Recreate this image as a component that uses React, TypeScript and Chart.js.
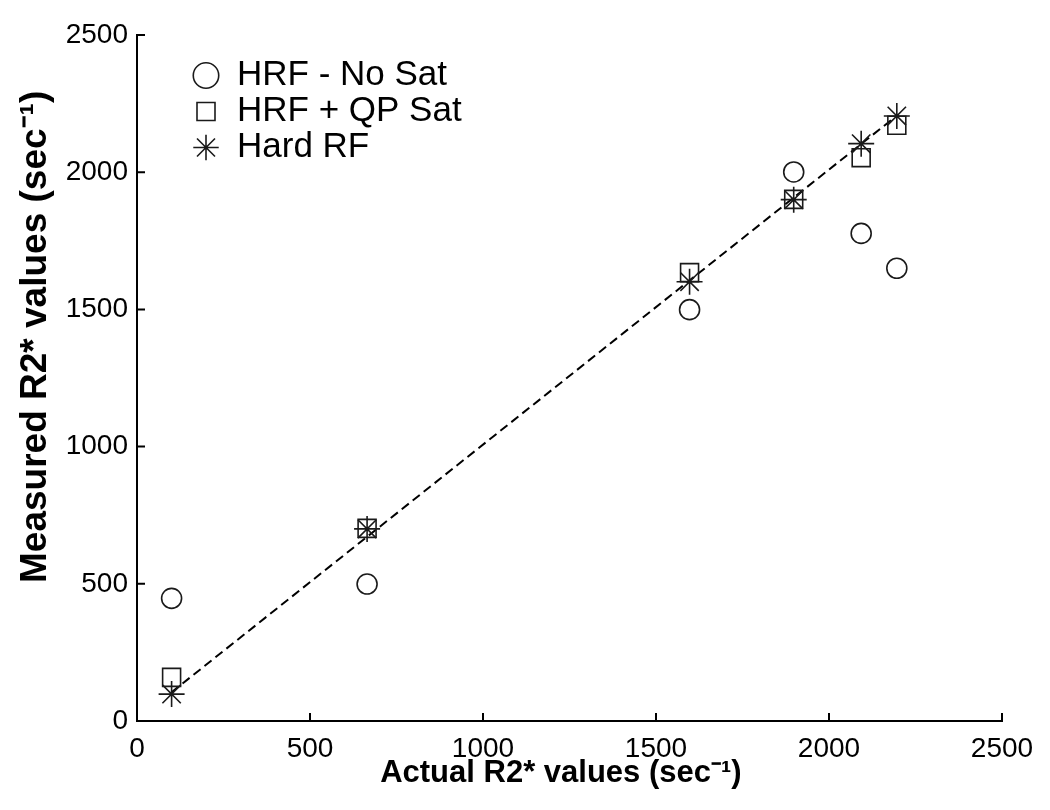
import React, { useEffect, useRef } from "react";
import { Chart, registerables } from "chart.js";

Chart.register(...registerables);

// Data
const actualR2 = [100, 665, 1597, 1898, 2093, 2196];
const hrfNoSat = [447, 499, 1499, 2001, 1777, 1650];
const hrfQpSat = [159, 702, 1634, 1901, 2053, 2171];
const hardRf = [98, 700, 1601, 1900, 2104, 2205];
const fitX = [100, 2200];
const fitY = [105, 2210];
const axisTicks = [0, 500, 1000, 1500, 2000, 2500];

const seriesNames = ["HRF - No Sat", "HRF + QP Sat", "Hard RF"];
const xTitle = "Actual R2* values (sec\u207B\u00B9)\u00A0\u00A0";
const yTitle = "\u00A0".repeat(8) + "Measured R2* values (sec\u207B\u00B9)";

const FONT = "'Liberation Sans', Arial, Helvetica, sans-serif";

const toPoints = (xs: number[], ys: number[]) => xs.map((x, i) => ({ x, y: ys[i] }));

const inwardTicks = {
  id: "inwardTicks",
  afterDraw(chart: any) {
    const ctx = chart.ctx;
    const xs = chart.scales.x;
    const ys = chart.scales.y;
    const len = 8;
    ctx.save();
    ctx.strokeStyle = "#000";
    ctx.lineWidth = 2;
    ctx.beginPath();
    axisTicks.forEach((v) => {
      const px = xs.getPixelForValue(v);
      ctx.moveTo(px, xs.top);
      ctx.lineTo(px, xs.top - len);
      const py = ys.getPixelForValue(v);
      ctx.moveTo(ys.right, py);
      ctx.lineTo(ys.right + len, py);
    });
    ctx.stroke();
    ctx.restore();
  },
};

const legendPlacement = {
  id: "legendPlacement",
  afterLayout(chart: any) {
    const lg = chart.legend;
    const ca = chart.chartArea;
    if (!lg || !ca) return;
    const w = lg.width;
    const h = lg.height;
    lg.left = ca.left + 54.5;
    lg.top = ca.top + 22;
    lg.right = lg.left + w;
    lg.bottom = lg.top + h;
  },
};

export default function App() {
  const ref = useRef<HTMLCanvasElement | null>(null);

  useEffect(() => {
    if (!ref.current) return;
    const markerColor = "#1a1a1a";
    const chart = new Chart(ref.current, {
      type: "scatter",
      data: {
        datasets: [
          {
            label: seriesNames[0],
            data: toPoints(actualR2, hrfNoSat),
            pointStyle: "circle",
            pointRadius: 10,
            borderColor: markerColor,
            backgroundColor: "rgba(0,0,0,0)",
            borderWidth: 1.6,
          },
          {
            label: seriesNames[1],
            data: toPoints(actualR2, hrfQpSat),
            pointStyle: "rect",
            pointRadius: 12.7,
            borderColor: markerColor,
            backgroundColor: "rgba(0,0,0,0)",
            borderWidth: 1.6,
          },
          {
            label: seriesNames[2],
            data: toPoints(actualR2, hardRf),
            pointStyle: "star",
            pointRadius: 13,
            borderColor: markerColor,
            backgroundColor: "rgba(0,0,0,0)",
            borderWidth: 1.6,
          },
          {
            label: "fit",
            type: "line",
            data: toPoints(fitX, fitY),
            borderColor: "#000",
            borderWidth: 2,
            borderDash: [9, 5],
            pointRadius: 0,
            fill: false,
          } as any,
        ],
      },
      options: {
        animation: false,
        responsive: true,
        maintainAspectRatio: false,
        layout: { padding: { top: 35, right: 48, left: 0, bottom: 0 } },
        plugins: {
          tooltip: { enabled: false },
          legend: {
            position: "chartArea" as any,
            align: "start",
            labels: {
              usePointStyle: true,
              boxWidth: 27,
              boxHeight: 18,
              padding: 1,
              color: "#000",
              font: { family: FONT, size: 35 },
              filter: (item: any) => item.datasetIndex < 3,
            },
          },
        },
        scales: {
          x: {
            type: "linear",
            min: 0,
            max: 2500,
            afterBuildTicks: (s: any) => {
              s.ticks = axisTicks.map((v) => ({ value: v }));
            },
            afterFit: (s: any) => {
              s.height = 89;
            },
            grid: { display: false, drawTicks: false },
            border: { display: true, color: "#000", width: 2 },
            ticks: {
              color: "#000",
              padding: 11,
              maxRotation: 0,
              font: { family: FONT, size: 28 },
              callback: (v: any) => String(v),
            },
            title: {
              display: true,
              text: xTitle,
              color: "#000",
              font: { family: FONT, size: 31, weight: "bold" },
              padding: { top: 0, bottom: 18 },
            },
          },
          y: {
            type: "linear",
            min: 0,
            max: 2500,
            afterBuildTicks: (s: any) => {
              s.ticks = axisTicks.map((v) => ({ value: v }));
            },
            afterFit: (s: any) => {
              s.width = 137;
            },
            grid: { display: false, drawTicks: false },
            border: { display: true, color: "#000", width: 2 },
            ticks: {
              color: "#000",
              padding: 9,
              font: { family: FONT, size: 28 },
              callback: (v: any) => String(v),
            },
            title: {
              display: true,
              text: yTitle,
              color: "#000",
              font: { family: FONT, size: 37, weight: "bold" },
              padding: { top: 14, bottom: 0 },
            },
          },
        },
      },
      plugins: [inwardTicks, legendPlacement],
    });
    return () => chart.destroy();
  }, []);

  return (
    <div
      style={{
        position: "fixed",
        left: 0,
        top: 0,
        width: 1050,
        height: 810,
        background: "#fff",
      }}
    >
      <canvas ref={ref} />
    </div>
  );
}
